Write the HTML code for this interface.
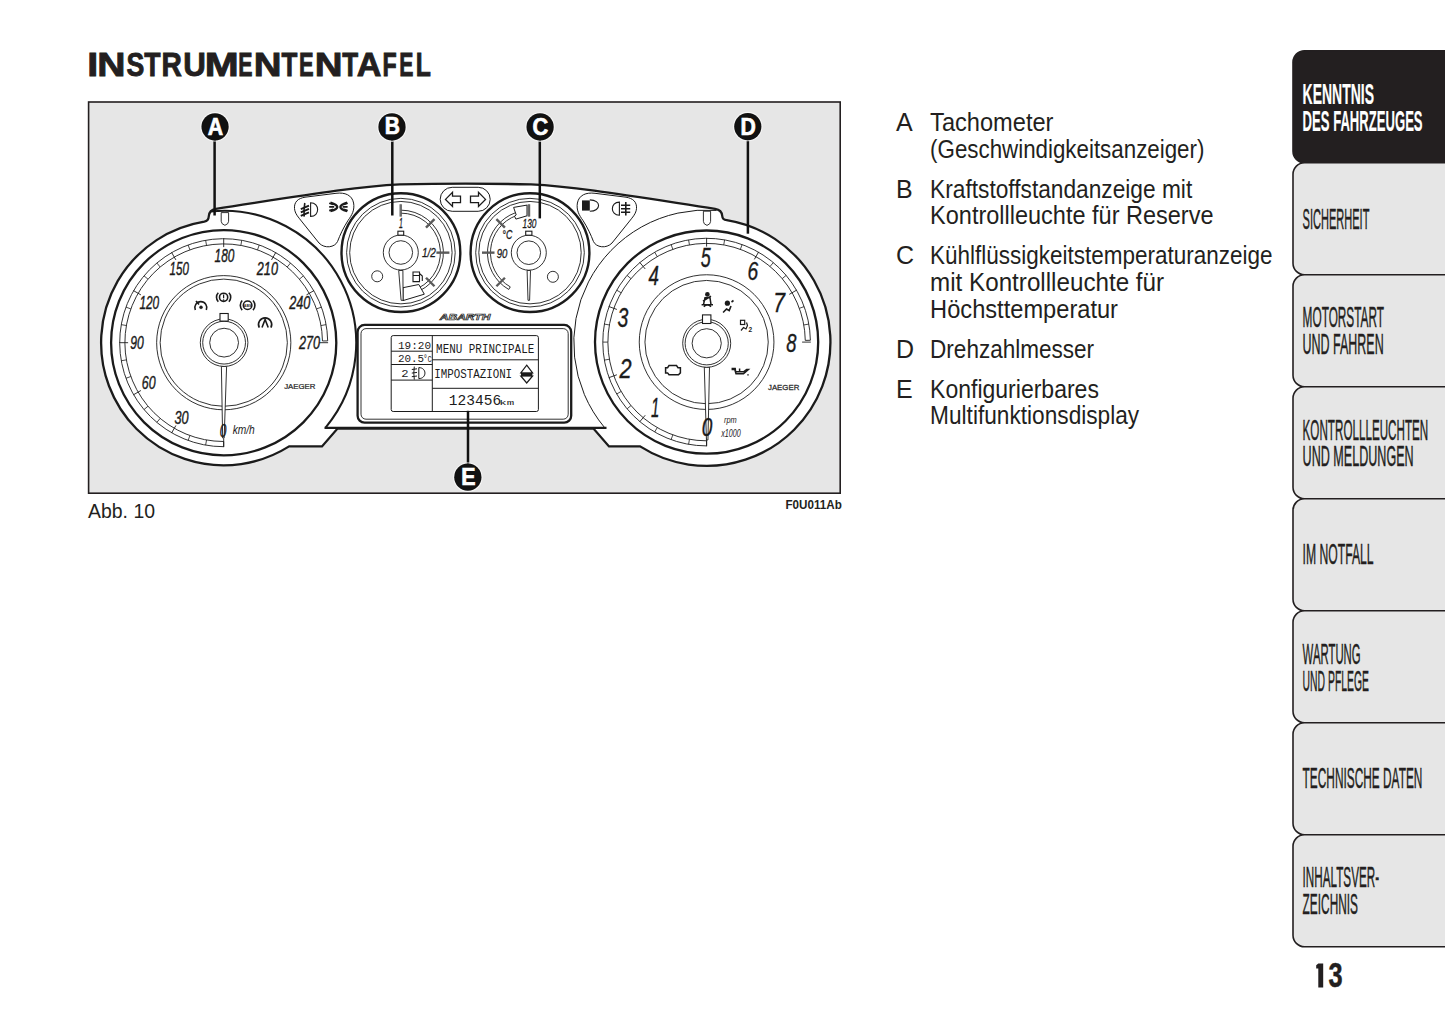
<!DOCTYPE html>
<html><head><meta charset="utf-8"><title>Instrumententafel</title>
<style>
html,body{margin:0;padding:0;background:#fff;}
body{width:1445px;height:1026px;overflow:hidden;}
svg{display:block;font-family:"Liberation Sans",sans-serif;}
</style></head>
<body>
<svg width="1445" height="1026" viewBox="0 0 1445 1026">
<rect x="0" y="0" width="1445" height="1026" fill="#ffffff"/>

<!-- TITLE -->
<text transform="translate(87.30,76.30) scale(1.1812,1)" font-size="33.50" font-weight="bold" fill="#231f20" stroke="#231f20" stroke-width="0.9">I</text>
<text transform="translate(97.33,76.30) scale(1.1678,1)" font-size="33.50" font-weight="bold" fill="#231f20" stroke="#231f20" stroke-width="0.9">N</text>
<text transform="translate(126.58,76.30) scale(0.7972,1)" font-size="33.50" font-weight="bold" fill="#231f20" stroke="#231f20" stroke-width="0.9">S</text>
<text transform="translate(144.35,76.30) scale(0.7959,1)" font-size="33.50" font-weight="bold" fill="#231f20" stroke="#231f20" stroke-width="0.9">T</text>
<text transform="translate(161.46,76.30) scale(0.8418,1)" font-size="33.50" font-weight="bold" fill="#231f20" stroke="#231f20" stroke-width="0.9">R</text>
<text transform="translate(183.17,76.30) scale(0.9337,1)" font-size="33.50" font-weight="bold" fill="#231f20" stroke="#231f20" stroke-width="0.9">U</text>
<text transform="translate(204.82,76.30) scale(1.2167,1)" font-size="33.50" font-weight="bold" fill="#231f20" stroke="#231f20" stroke-width="0.9">M</text>
<text transform="translate(238.32,76.30) scale(0.6385,1)" font-size="33.50" font-weight="bold" fill="#231f20" stroke="#231f20" stroke-width="0.9">E</text>
<text transform="translate(253.68,76.30) scale(1.1475,1)" font-size="33.50" font-weight="bold" fill="#231f20" stroke="#231f20" stroke-width="0.9">N</text>
<text transform="translate(281.56,76.30) scale(0.7756,1)" font-size="33.50" font-weight="bold" fill="#231f20" stroke="#231f20" stroke-width="0.9">T</text>
<text transform="translate(298.98,76.30) scale(0.6544,1)" font-size="33.50" font-weight="bold" fill="#231f20" stroke="#231f20" stroke-width="0.9">E</text>
<text transform="translate(314.78,76.30) scale(1.1475,1)" font-size="33.50" font-weight="bold" fill="#231f20" stroke="#231f20" stroke-width="0.9">N</text>
<text transform="translate(342.36,76.30) scale(0.7756,1)" font-size="33.50" font-weight="bold" fill="#231f20" stroke="#231f20" stroke-width="0.9">T</text>
<text transform="translate(356.70,76.30) scale(1.0189,1)" font-size="33.50" font-weight="bold" fill="#231f20" stroke="#231f20" stroke-width="0.9">A</text>
<text transform="translate(382.59,76.30) scale(0.6943,1)" font-size="33.50" font-weight="bold" fill="#231f20" stroke="#231f20" stroke-width="0.9">F</text>
<text transform="translate(399.13,76.30) scale(0.6332,1)" font-size="33.50" font-weight="bold" fill="#231f20" stroke="#231f20" stroke-width="0.9">E</text>
<text transform="translate(415.79,76.30) scale(0.7387,1)" font-size="33.50" font-weight="bold" fill="#231f20" stroke="#231f20" stroke-width="0.9">L</text>

<!-- FIGURE BOX -->
<rect x="88.6" y="102" width="751.6" height="391.2" fill="#e6e6e6" stroke="#231f20" stroke-width="1.6"/>

<path d="M215.9,208.8 C300,196 355,186.6 400,184.4 Q465.5,183 531,184.4 C576,186.6 631,196 715.1,208.8 C720.6,209.6 722,212.5 722.2,215.8 C722.4,218.8 724.2,220.1 726.7,220.1 A123.7 123.7 0 1 1 640.1,446.4 L609,446.4 L593.5,428.6 L337.5,428.6 L322,446.4 L289.1,446.4 A122.6 122.6 0 1 1 204.3,221.64 C206.6,221.2 208.6,219.4 208.8,216.2 C209,212.5 210.4,209.6 215.9,208.8 Z" fill="#ffffff" stroke="#1b1b1b" stroke-width="2.3"/>
<path d="M210.3,211.5 A132.2 132.2 0 0 1 325.6,427.6" fill="none" stroke="#1b1b1b" stroke-width="2.1"/>
<path d="M716.5,210.4 A132.6 132.6 0 0 0 604.6,427.6" fill="none" stroke="#1b1b1b" stroke-width="1"/>
<line x1="324.5" y1="427.9" x2="606.5" y2="427.9" stroke="#1b1b1b" stroke-width="2.3"/>
<path d="M294.5,208.5 C294,202 298,198.3 305,197.2 L336,193.3 C345,192.2 352,195 353.6,203 C354.8,210 352,215 348,220.5 C343.5,227.5 340,235 337.6,241.4 C335,247.5 324.5,249 319,243 L299.6,218.8 C296,214.5 294.7,211.5 294.5,208.5 Z" fill="none" stroke="#1b1b1b" stroke-width="1"/>
<g transform="translate(931,0) scale(-1,1)">
<path d="M294.5,208.5 C294,202 298,198.3 305,197.2 L336,193.3 C345,192.2 352,195 353.6,203 C354.8,210 352,215 348,220.5 C343.5,227.5 340,235 337.6,241.4 C335,247.5 324.5,249 319,243 L299.6,218.8 C296,214.5 294.7,211.5 294.5,208.5 Z" fill="none" stroke="#1b1b1b" stroke-width="1"/>
</g>
<rect x="440.2" y="187.3" width="50" height="24" rx="12" ry="12" fill="none" stroke="#1b1b1b" stroke-width="1"/>
<polygon points="445.5,199.4 452.5,192.4 452.5,196.2 460.5,196.2 460.5,202.6 452.5,202.6 452.5,206.4" fill="#fff" stroke="#1b1b1b" stroke-width="1.3" stroke-linejoin="miter"/>
<polygon points="485.5,199.4 478.5,192.4 478.5,196.2 470.5,196.2 470.5,202.6 478.5,202.6 478.5,206.4" fill="#fff" stroke="#1b1b1b" stroke-width="1.3" stroke-linejoin="miter"/>
<path d="M221.2,212.6 H228.6 V221.3 Q228.6,224.1 224.9,225.3 Q221.2,224.1 221.2,221.3 Z" fill="#fff" stroke="#1b1b1b" stroke-width="0.9"/>
<path d="M703.4,211.2 H710.6 V221.4 Q710.6,224.2 707,225.4 Q703.4,224.2 703.4,221.4 Z" fill="#fff" stroke="#1b1b1b" stroke-width="0.9"/>
<circle cx="223.7" cy="342.7" r="112.6" fill="none" stroke="#1b1b1b" stroke-width="2.3"/>
<path d="M223.7,446.7 A104 104 0 1 1 327.68,340.88" fill="none" stroke="#1b1b1b" stroke-width="0.9"/>
<path d="M223.7,441.5 A98.8 98.8 0 1 1 322.48,340.98" fill="none" stroke="#1b1b1b" stroke-width="0.9"/>
<line x1="322.48" y1="340.98" x2="327.68" y2="340.88" stroke="#1b1b1b" stroke-width="0.9"/>
<line x1="223.7" y1="441.5" x2="223.7" y2="446.7" stroke="#1b1b1b" stroke-width="0.9"/>
<line x1="223.7" y1="438.3" x2="223.7" y2="447.1" stroke="#1b1b1b" stroke-width="0.9"/>
<line x1="206.54" y1="440" x2="205.64" y2="445.12" stroke="#1b1b1b" stroke-width="0.8"/>
<line x1="189.91" y1="435.54" x2="188.13" y2="440.43" stroke="#1b1b1b" stroke-width="0.8"/>
<line x1="175.9" y1="425.49" x2="171.5" y2="433.11" stroke="#1b1b1b" stroke-width="0.9"/>
<line x1="160.19" y1="418.39" x2="156.85" y2="422.37" stroke="#1b1b1b" stroke-width="0.8"/>
<line x1="148.01" y1="406.21" x2="144.03" y2="409.55" stroke="#1b1b1b" stroke-width="0.8"/>
<line x1="140.91" y1="390.5" x2="133.29" y2="394.9" stroke="#1b1b1b" stroke-width="0.9"/>
<line x1="130.86" y1="376.49" x2="125.97" y2="378.27" stroke="#1b1b1b" stroke-width="0.8"/>
<line x1="126.4" y1="359.86" x2="121.28" y2="360.76" stroke="#1b1b1b" stroke-width="0.8"/>
<line x1="128.1" y1="342.7" x2="119.3" y2="342.7" stroke="#1b1b1b" stroke-width="0.9"/>
<line x1="126.4" y1="325.54" x2="121.28" y2="324.64" stroke="#1b1b1b" stroke-width="0.8"/>
<line x1="130.86" y1="308.91" x2="125.97" y2="307.13" stroke="#1b1b1b" stroke-width="0.8"/>
<line x1="140.91" y1="294.9" x2="133.29" y2="290.5" stroke="#1b1b1b" stroke-width="0.9"/>
<line x1="148.01" y1="279.19" x2="144.03" y2="275.85" stroke="#1b1b1b" stroke-width="0.8"/>
<line x1="160.19" y1="267.01" x2="156.85" y2="263.03" stroke="#1b1b1b" stroke-width="0.8"/>
<line x1="175.9" y1="259.91" x2="171.5" y2="252.29" stroke="#1b1b1b" stroke-width="0.9"/>
<line x1="189.91" y1="249.86" x2="188.13" y2="244.97" stroke="#1b1b1b" stroke-width="0.8"/>
<line x1="206.54" y1="245.4" x2="205.64" y2="240.28" stroke="#1b1b1b" stroke-width="0.8"/>
<line x1="223.7" y1="247.1" x2="223.7" y2="238.3" stroke="#1b1b1b" stroke-width="0.9"/>
<line x1="240.86" y1="245.4" x2="241.76" y2="240.28" stroke="#1b1b1b" stroke-width="0.8"/>
<line x1="257.49" y1="249.86" x2="259.27" y2="244.97" stroke="#1b1b1b" stroke-width="0.8"/>
<line x1="271.5" y1="259.91" x2="275.9" y2="252.29" stroke="#1b1b1b" stroke-width="0.9"/>
<line x1="287.21" y1="267.01" x2="290.55" y2="263.03" stroke="#1b1b1b" stroke-width="0.8"/>
<line x1="299.39" y1="279.19" x2="303.37" y2="275.85" stroke="#1b1b1b" stroke-width="0.8"/>
<line x1="306.49" y1="294.9" x2="314.11" y2="290.5" stroke="#1b1b1b" stroke-width="0.9"/>
<line x1="316.54" y1="308.91" x2="321.43" y2="307.13" stroke="#1b1b1b" stroke-width="0.8"/>
<line x1="321" y1="325.54" x2="326.12" y2="324.64" stroke="#1b1b1b" stroke-width="0.8"/>
<line x1="319.3" y1="342.7" x2="328.1" y2="342.7" stroke="#1b1b1b" stroke-width="0.9"/>
<circle cx="223.75" cy="342.7" r="67.1" fill="none" stroke="#1b1b1b" stroke-width="0.9"/>
<circle cx="223.75" cy="342.7" r="63.6" fill="none" stroke="#1b1b1b" stroke-width="0.9"/>
<path d="M221.4,366.5 L226.6,366.5 L224.15,438 L222.65,438 Z" fill="#fff" stroke="#1b1b1b" stroke-width="0.9"/>
<text transform="translate(219.63,436.58) scale(0.6684,1)" font-size="17.80" font-style="italic" fill="#1b1b1b" stroke="#1b1b1b" stroke-width="0.4">0</text>
<text transform="translate(174.45,423.78) scale(0.7124,1)" font-size="17.80" font-style="italic" fill="#1b1b1b" stroke="#1b1b1b" stroke-width="0.4">30</text>
<text transform="translate(141.75,388.98) scale(0.7084,1)" font-size="17.51" font-style="italic" fill="#1b1b1b" stroke="#1b1b1b" stroke-width="0.4">60</text>
<text transform="translate(130.23,348.88) scale(0.6883,1)" font-size="17.66" font-style="italic" fill="#1b1b1b" stroke="#1b1b1b" stroke-width="0.4">90</text>
<text transform="translate(139.44,309.17) scale(0.6465,1)" font-size="18.36" font-style="italic" fill="#1b1b1b" stroke="#1b1b1b" stroke-width="0.4">120</text>
<text transform="translate(169.55,275.37) scale(0.6298,1)" font-size="18.36" font-style="italic" fill="#1b1b1b" stroke="#1b1b1b" stroke-width="0.4">150</text>
<text transform="translate(214.54,261.88) scale(0.6670,1)" font-size="17.80" font-style="italic" fill="#1b1b1b" stroke="#1b1b1b" stroke-width="0.4">180</text>
<text transform="translate(256.82,274.98) scale(0.7117,1)" font-size="17.80" font-style="italic" fill="#1b1b1b" stroke="#1b1b1b" stroke-width="0.4">210</text>
<text transform="translate(289.22,308.77) scale(0.6951,1)" font-size="18.22" font-style="italic" fill="#1b1b1b" stroke="#1b1b1b" stroke-width="0.4">240</text>
<text transform="translate(298.92,348.67) scale(0.6951,1)" font-size="18.22" font-style="italic" fill="#1b1b1b" stroke="#1b1b1b" stroke-width="0.4">270</text>
<text transform="translate(232.63,434.48) scale(0.8336,1)" font-size="12.26" font-style="italic" fill="#1b1b1b">km/h</text>
<text transform="translate(284.18,389.13) scale(1.0252,1)" font-size="7.63" fill="#2a2a2a" stroke="#2a2a2a" stroke-width="0.25">JAEGER</text>
<circle cx="224.1" cy="342.65" r="23.8" fill="#fff" stroke="#1b1b1b" stroke-width="0.9"/>
<circle cx="224.1" cy="342.65" r="21.4" fill="none" stroke="#1b1b1b" stroke-width="0.9"/>
<circle cx="224.1" cy="342.65" r="14.4" fill="none" stroke="#1b1b1b" stroke-width="0.9"/>
<rect x="220" y="313.5" width="8.2" height="7.6" fill="#fff" stroke="#1b1b1b" stroke-width="1.1"/>
<g fill="none" stroke="#1b1b1b" stroke-width="1.6">
<path d="M195.3,310 A6 6 0 1 1 206.3,310"/>
<line x1="196" y1="301" x2="199" y2="304.5"/>
</g>
<circle cx="201" cy="307.3" r="1.5" fill="#1b1b1b" stroke="#1b1b1b" stroke-width="0.5"/>
<g fill="none" stroke="#1b1b1b" stroke-width="1.6">
<circle cx="223.6" cy="297.3" r="4.1"/>
<path d="M218.3,292.8 A6.5 6.5 0 0 0 218.3,301.8 M228.9,292.8 A6.5 6.5 0 0 1 228.9,301.8"/>
</g>
<line x1="223.6" y1="294.6" x2="223.6" y2="298.3" stroke="#1b1b1b" stroke-width="1.2"/>
<circle cx="223.6" cy="299.9" r="0.5" fill="#1b1b1b" stroke="#1b1b1b" stroke-width="0.5"/>
<g fill="none" stroke="#1b1b1b" stroke-width="1.6">
<circle cx="247.6" cy="305.3" r="4.3" fill="#fff" stroke-width="1.5"/>
<path d="M242.2,300.5 A7 7 0 0 0 242.2,310.1 M253,300.5 A7 7 0 0 1 253,310.1"/>
</g>
<text x="247.6" y="306.6" font-size="3.6" fill="#1b1b1b" text-anchor="middle" font-weight="bold">ABS</text>
<g fill="none" stroke="#1b1b1b" stroke-width="1.6">
<path d="M259.3,327.6 A6.6 6.6 0 1 1 270.9,327.6"/>
<path d="M262,327.5 L265.1,319.5 L268.2,327.5"/>
</g>
<circle cx="706.6" cy="342.1" r="111.6" fill="none" stroke="#1b1b1b" stroke-width="2.3"/>
<path d="M706.6,445.9 A103.8 103.8 0 1 1 810.38,340.29" fill="none" stroke="#1b1b1b" stroke-width="0.9"/>
<path d="M706.6,440.8 A98.7 98.7 0 1 1 805.28,340.38" fill="none" stroke="#1b1b1b" stroke-width="0.9"/>
<line x1="805.28" y1="340.38" x2="810.38" y2="340.29" stroke="#1b1b1b" stroke-width="0.9"/>
<line x1="706.6" y1="440.8" x2="706.6" y2="445.9" stroke="#1b1b1b" stroke-width="0.9"/>
<line x1="706.6" y1="437.6" x2="706.6" y2="446.3" stroke="#1b1b1b" stroke-width="0.9"/>
<line x1="689.46" y1="439.3" x2="688.58" y2="444.32" stroke="#1b1b1b" stroke-width="0.8"/>
<line x1="672.84" y1="434.85" x2="671.1" y2="439.64" stroke="#1b1b1b" stroke-width="0.8"/>
<line x1="657.25" y1="427.58" x2="654.7" y2="431.99" stroke="#1b1b1b" stroke-width="0.8"/>
<line x1="645.21" y1="415.26" x2="639.62" y2="421.92" stroke="#1b1b1b" stroke-width="0.9"/>
<line x1="630.99" y1="405.54" x2="627.08" y2="408.82" stroke="#1b1b1b" stroke-width="0.8"/>
<line x1="621.12" y1="391.45" x2="616.71" y2="394" stroke="#1b1b1b" stroke-width="0.8"/>
<line x1="616.86" y1="374.76" x2="608.68" y2="377.74" stroke="#1b1b1b" stroke-width="0.9"/>
<line x1="609.4" y1="359.24" x2="604.38" y2="360.12" stroke="#1b1b1b" stroke-width="0.8"/>
<line x1="607.9" y1="342.1" x2="602.8" y2="342.1" stroke="#1b1b1b" stroke-width="0.8"/>
<line x1="609.4" y1="324.96" x2="604.38" y2="324.08" stroke="#1b1b1b" stroke-width="0.8"/>
<line x1="616.86" y1="309.44" x2="608.68" y2="306.46" stroke="#1b1b1b" stroke-width="0.9"/>
<line x1="621.12" y1="292.75" x2="616.71" y2="290.2" stroke="#1b1b1b" stroke-width="0.8"/>
<line x1="630.99" y1="278.66" x2="627.08" y2="275.38" stroke="#1b1b1b" stroke-width="0.8"/>
<line x1="645.21" y1="268.94" x2="639.62" y2="262.28" stroke="#1b1b1b" stroke-width="0.9"/>
<line x1="657.25" y1="256.62" x2="654.7" y2="252.21" stroke="#1b1b1b" stroke-width="0.8"/>
<line x1="672.84" y1="249.35" x2="671.1" y2="244.56" stroke="#1b1b1b" stroke-width="0.8"/>
<line x1="689.46" y1="244.9" x2="688.58" y2="239.88" stroke="#1b1b1b" stroke-width="0.8"/>
<line x1="706.6" y1="246.6" x2="706.6" y2="237.9" stroke="#1b1b1b" stroke-width="0.9"/>
<line x1="723.74" y1="244.9" x2="724.62" y2="239.88" stroke="#1b1b1b" stroke-width="0.8"/>
<line x1="740.36" y1="249.35" x2="742.1" y2="244.56" stroke="#1b1b1b" stroke-width="0.8"/>
<line x1="754.35" y1="259.39" x2="758.7" y2="251.86" stroke="#1b1b1b" stroke-width="0.9"/>
<line x1="770.04" y1="266.49" x2="773.32" y2="262.58" stroke="#1b1b1b" stroke-width="0.8"/>
<line x1="782.21" y1="278.66" x2="786.12" y2="275.38" stroke="#1b1b1b" stroke-width="0.8"/>
<line x1="789.31" y1="294.35" x2="796.84" y2="290" stroke="#1b1b1b" stroke-width="0.9"/>
<line x1="799.35" y1="308.34" x2="804.14" y2="306.6" stroke="#1b1b1b" stroke-width="0.8"/>
<line x1="803.8" y1="324.96" x2="808.82" y2="324.08" stroke="#1b1b1b" stroke-width="0.8"/>
<line x1="802.1" y1="342.1" x2="810.8" y2="342.1" stroke="#1b1b1b" stroke-width="0.9"/>
<circle cx="706.6" cy="342.1" r="67.35" fill="none" stroke="#1b1b1b" stroke-width="0.9"/>
<circle cx="706.6" cy="342.1" r="61.65" fill="none" stroke="#1b1b1b" stroke-width="0.9"/>
<path d="M704.3,367.2 L709.5,367.2 L707.95,440 L706.45,440 Z" fill="#fff" stroke="#1b1b1b" stroke-width="0.9"/>
<text transform="translate(701.72,435.90) scale(0.7324,1)" font-size="25.99" font-style="italic" fill="#1b1b1b" stroke="#1b1b1b" stroke-width="0.4">0</text>
<text transform="translate(650.96,417.05) scale(0.5302,1)" font-size="28.34" font-style="italic" fill="#1b1b1b" stroke="#1b1b1b" stroke-width="0.4">1</text>
<text transform="translate(619.38,378.45) scale(0.7785,1)" font-size="27.93" font-style="italic" fill="#1b1b1b" stroke="#1b1b1b" stroke-width="0.4">2</text>
<text transform="translate(617.59,327.39) scale(0.7255,1)" font-size="26.84" font-style="italic" fill="#1b1b1b" stroke="#1b1b1b" stroke-width="0.4">3</text>
<text transform="translate(648.53,284.55) scale(0.6787,1)" font-size="27.62" font-style="italic" fill="#1b1b1b" stroke="#1b1b1b" stroke-width="0.4">4</text>
<text transform="translate(700.85,267.38) scale(0.6576,1)" font-size="27.23" font-style="italic" fill="#1b1b1b" stroke="#1b1b1b" stroke-width="0.4">5</text>
<text transform="translate(747.57,280.20) scale(0.7388,1)" font-size="25.99" font-style="italic" fill="#1b1b1b" stroke="#1b1b1b" stroke-width="0.4">6</text>
<text transform="translate(773.37,312.05) scale(0.7890,1)" font-size="26.74" font-style="italic" fill="#1b1b1b" stroke="#1b1b1b" stroke-width="0.4">7</text>
<text transform="translate(786.17,352.20) scale(0.7046,1)" font-size="26.01" font-style="italic" fill="#1b1b1b" stroke="#1b1b1b" stroke-width="0.4">8</text>
<text transform="translate(723.98,423.30) scale(0.9061,1)" font-size="8.18" font-style="italic" fill="#1b1b1b">rpm</text>
<text transform="translate(721.29,437.20) scale(0.6747,1)" font-size="10.59" font-style="italic" fill="#1b1b1b">x1000</text>
<text transform="translate(767.98,389.82) scale(1.0098,1)" font-size="7.77" fill="#2a2a2a" stroke="#2a2a2a" stroke-width="0.25">JAEGER</text>
<circle cx="706.7" cy="343.3" r="24" fill="#fff" stroke="#1b1b1b" stroke-width="0.9"/>
<circle cx="706.7" cy="343.3" r="21.6" fill="none" stroke="#1b1b1b" stroke-width="0.9"/>
<circle cx="706.7" cy="343.3" r="14.6" fill="none" stroke="#1b1b1b" stroke-width="0.9"/>
<rect x="702.5" y="314.9" width="8.4" height="8.6" fill="#fff" stroke="#1b1b1b" stroke-width="1.1"/>
<g fill="none" stroke="#1b1b1b" stroke-width="1.5" transform="translate(0,-1.8)">
<circle cx="707.4" cy="296.2" r="1.6" fill="#1b1b1b"/>
<path d="M703.5,306.5 L705,299.5 L710,299.5 L711,306.5 M701.6,306.5 L713,306.5 M703.8,308.5 Q707.4,305 711,308.5 M703,303 L711,298"/>
</g>
<g fill="none" stroke="#1b1b1b" stroke-width="1.6">
<circle cx="727.4" cy="303.2" r="2.6" fill="#1b1b1b" stroke="none"/>
<path d="M723.1,312.5 L726.5,309 L729.2,310.5 L731,306 M731.5,302 L733.5,300.5"/>
</g>
<g fill="none" stroke="#1b1b1b" stroke-width="1.2">
<rect x="740.5" y="320.3" width="4.2" height="4.2"/>
<path d="M741,330.5 L743.5,327.5 L746,329 L747.5,325.5 L746.5,322.5"/>
</g>
<text x="750.2" y="331.5" font-size="6.5" fill="#1b1b1b" text-anchor="middle" font-weight="bold">2</text>
<path transform="translate(0,1.4)" d="M665.6,366.3 L667.6,366.3 L669,364.2 L676.5,364.2 L678,366.3 L680.4,366.3 L680.4,371.5 L678.5,373.4 L669,373.4 L667.6,371.5 L665.6,371.5 Z" fill="none" stroke="#1b1b1b" stroke-width="1.5"/>
<path d="M732.3,369.6 L734.8,369.6 L736,373.8 L743.5,373.8 L748.4,369.6 L746.6,369.6 L743.5,371.8 L735.6,371.8 L735.2,368.4 L732.3,368.4 Z M739.6,368.4 V371.6 M748,374.2 L748,375.4" fill="none" stroke="#1b1b1b" stroke-width="1.5"/>
<circle cx="400.9" cy="252.65" r="59.4" fill="#fff" stroke="#1b1b1b" stroke-width="2.4"/>
<circle cx="400.9" cy="252.65" r="54.3" fill="none" stroke="#1b1b1b" stroke-width="0.9"/>
<circle cx="400.9" cy="252.65" r="51.2" fill="none" stroke="#1b1b1b" stroke-width="0.9"/>
<path d="M400.9,210.15 A42.5 42.5 0 0 1 419.53,290.85" fill="none" stroke="#1b1b1b" stroke-width="0.9"/>
<path d="M400.9,213.15 A39.5 39.5 0 0 1 418.22,288.15" fill="none" stroke="#1b1b1b" stroke-width="0.9"/>
<line x1="400.7" y1="204.3" x2="400.7" y2="216.6" stroke="#555" stroke-width="2.3"/>
<line x1="400.7" y1="205" x2="400.7" y2="215.9" stroke="#888" stroke-width="0.6"/>
<line x1="426" y1="227.55" x2="434.49" y2="219.06" stroke="#5a5a5a" stroke-width="2.4"/>
<line x1="436.4" y1="252.65" x2="449.4" y2="252.65" stroke="#5a5a5a" stroke-width="2.4"/>
<line x1="426" y1="277.75" x2="434.49" y2="286.24" stroke="#5a5a5a" stroke-width="2.4"/>
<path d="M403,287.7 L418.8,284.5 L424.3,294.2 L403,300.6 Z" fill="#fff" stroke="#1b1b1b" stroke-width="1"/>
<text transform="translate(399.02,228.40) scale(0.4932,1)" font-size="14.10" font-style="italic" fill="#1b1b1b" stroke="#1b1b1b" stroke-width="0.3">1</text>
<text transform="translate(421.94,257.38) scale(0.8132,1)" font-size="12.39" font-style="italic" fill="#1b1b1b" stroke="#1b1b1b" stroke-width="0.3">1/2</text>
<path d="M413,272 L419.5,272 L419.5,281.6 L413,281.6 Z M413,275.5 L419.5,275.5 M419.5,273.5 L422.3,276 L422.3,281" fill="none" stroke="#1b1b1b" stroke-width="1.1"/>
<circle cx="377.2" cy="276.3" r="5.5" fill="none" stroke="#1b1b1b" stroke-width="0.9"/>
<circle cx="400.8" cy="252.5" r="17.5" fill="#fff" stroke="#1b1b1b" stroke-width="0.9"/>
<circle cx="400.8" cy="252.5" r="11.8" fill="none" stroke="#1b1b1b" stroke-width="0.9"/>
<rect x="397.9" y="231.2" width="5.8" height="4" fill="#fff" stroke="#1b1b1b" stroke-width="1.1"/>
<path d="M398.7,270.5 L402.9,270.5 L403.1,300.3 L401.1,300.3 Z" fill="#fff" stroke="#1b1b1b" stroke-width="0.9"/>
<circle cx="530" cy="252.65" r="59.4" fill="#fff" stroke="#1b1b1b" stroke-width="2.4"/>
<circle cx="530" cy="252.65" r="54.3" fill="none" stroke="#1b1b1b" stroke-width="0.9"/>
<circle cx="530" cy="252.65" r="51.2" fill="none" stroke="#1b1b1b" stroke-width="0.9"/>
<path d="M508.75,289.46 A42.5 42.5 0 0 1 515.46,212.71" fill="none" stroke="#1b1b1b" stroke-width="0.9"/>
<path d="M510.25,286.86 A39.5 39.5 0 0 1 516.49,215.53" fill="none" stroke="#1b1b1b" stroke-width="0.9"/>
<line x1="510.25" y1="286.86" x2="508.75" y2="289.46" stroke="#1b1b1b" stroke-width="0.9"/>
<line x1="504.9" y1="277.75" x2="496.41" y2="286.24" stroke="#5a5a5a" stroke-width="2.4"/>
<line x1="494.5" y1="252.65" x2="482" y2="252.65" stroke="#5a5a5a" stroke-width="2.4"/>
<line x1="504.9" y1="227.55" x2="496.41" y2="219.06" stroke="#5a5a5a" stroke-width="2.4"/>
<path d="M513.6,207.4 L527.0,205.1 L527.0,215.8 L515.9,219.1 L514.5,216.2 L516.2,214.9 Z" fill="#fff" stroke="#1b1b1b" stroke-width="1"/>
<line x1="528.9" y1="204.3" x2="528.9" y2="216.6" stroke="#555" stroke-width="2.6"/>
<line x1="528.9" y1="205" x2="528.9" y2="215.9" stroke="#888" stroke-width="0.7"/>
<text transform="translate(522.58,228.28) scale(0.6851,1)" font-size="12.15" font-style="italic" fill="#1b1b1b" stroke="#1b1b1b" stroke-width="0.3">130</text>
<text transform="translate(502.36,238.97) scale(0.6788,1)" font-size="12.99" font-style="italic" fill="#1b1b1b" stroke="#1b1b1b" stroke-width="0.3">°C</text>
<text transform="translate(496.67,257.97) scale(0.7491,1)" font-size="12.85" font-style="italic" fill="#1b1b1b" stroke="#1b1b1b" stroke-width="0.3">90</text>
<circle cx="552.9" cy="276.8" r="5.5" fill="none" stroke="#1b1b1b" stroke-width="0.9"/>
<circle cx="528.8" cy="252.7" r="17.5" fill="#fff" stroke="#1b1b1b" stroke-width="0.9"/>
<circle cx="528.8" cy="252.7" r="11.8" fill="none" stroke="#1b1b1b" stroke-width="0.9"/>
<rect x="525.7" y="231.2" width="6.2" height="4" fill="#fff" stroke="#1b1b1b" stroke-width="1.1"/>
<path d="M527.1,270.5 L530.5,270.5 L529.6,300.3 L528,300.3 Z" fill="#fff" stroke="#1b1b1b" stroke-width="0.9"/>
<path d="M310.6,202.8 C320,202.8 320,216.4 310.6,216.4 Z" fill="none" stroke="#1b1b1b" stroke-width="1.1"/>
<path d="M300.8,209.2 L309,205.7 M300.8,212.4 L309,208.9 M300.8,215.8 L309,212.3" fill="none" stroke="#1b1b1b" stroke-width="1.9"/>
<path d="M304.8,203 Q303.6,209.8 304.2,216.6" fill="none" stroke="#1b1b1b" stroke-width="1.6"/>
<path d="M330.4,202.6 Q344,206.9 330.4,211.2 M347.2,202.6 Q333.6,206.9 347.2,211.2" fill="none" stroke="#1b1b1b" stroke-width="2.4"/>
<path d="M329.2,203.2 L333.2,204.4 M329.2,206.9 H334.2 M329.2,210.6 L333.2,209.4 M347.6,203.2 L343.6,204.4 M347.6,206.9 H342.6 M347.6,210.6 L343.6,209.4" fill="none" stroke="#1b1b1b" stroke-width="1.7"/>
<rect x="582" y="200.4" width="7.8" height="10.2" fill="#1b1b1b"/>
<path d="M589.8,199.9 C601.5,199.9 601.5,211.2 589.8,211.2" fill="none" stroke="#1b1b1b" stroke-width="1.1"/>
<path d="M619.4,202.1 C610,202.1 610,215.3 619.4,215.3 Z" fill="none" stroke="#1b1b1b" stroke-width="1.1"/>
<path d="M621,205.3 H630.2 M621,208.7 H630.2 M621,212.3 H630.2" fill="none" stroke="#1b1b1b" stroke-width="1.5"/>
<path d="M625.8,202 V215.6" fill="none" stroke="#1b1b1b" stroke-width="1.6"/>
<rect x="357.6" y="324.9" width="213.6" height="97.8" rx="7" ry="7" fill="#fff" stroke="#1b1b1b" stroke-width="2.3"/>
<rect x="361" y="328.6" width="207.2" height="90.6" rx="5" ry="5" fill="none" stroke="#1b1b1b" stroke-width="0.9"/>
<rect x="391.2" y="335.6" width="147.2" height="75.9" rx="2" ry="2" fill="none" stroke="#1b1b1b" stroke-width="1"/>
<line x1="432.3" y1="335.6" x2="432.3" y2="411.5" stroke="#1b1b1b" stroke-width="1"/>
<line x1="391.2" y1="351.2" x2="432.3" y2="351.2" stroke="#1b1b1b" stroke-width="1"/>
<line x1="391.2" y1="364.5" x2="432.3" y2="364.5" stroke="#1b1b1b" stroke-width="1"/>
<line x1="391.2" y1="380.1" x2="432.3" y2="380.1" stroke="#1b1b1b" stroke-width="1"/>
<line x1="432.3" y1="359.8" x2="538.4" y2="359.8" stroke="#1b1b1b" stroke-width="1"/>
<line x1="432.3" y1="388.3" x2="538.4" y2="388.3" stroke="#1b1b1b" stroke-width="1"/>
<text transform="translate(397.90,348.80) scale(1.0424,1)" font-size="10.61" font-family="Liberation Mono" fill="#1b1b1b">19:20</text>
<text transform="translate(397.93,361.90) scale(1.0272,1)" font-size="10.61" font-family="Liberation Mono" fill="#1b1b1b">20.5</text>
<text transform="translate(423.25,361.90) scale(0.7013,1)" font-size="10.31" font-family="Liberation Mono" fill="#1b1b1b">°c</text>
<text transform="translate(401.34,376.90) scale(1.0739,1)" font-size="11.36" font-family="Liberation Mono" fill="#1b1b1b">2</text>
<g fill="none" stroke="#1b1b1b" stroke-width="1">
<path d="M418.8,367.6 C427,367.6 427,378.6 418.8,378.6 Z M411.8,369.5 L417,368.8 M411.8,373.1 L417,372.4 M411.8,376.7 L417,376 M414.3,366.6 Q413.3,373.1 414.3,379.6"/>
</g>
<text transform="translate(436.11,353.28) scale(0.9035,1)" font-size="12.08" font-family="Liberation Mono" fill="#1b1b1b">MENU PRINCIPALE</text>
<text transform="translate(434.23,378.28) scale(0.9082,1)" font-size="11.93" font-family="Liberation Mono" fill="#1b1b1b">IMPOSTAZIONI</text>
<text transform="translate(448.85,404.86) scale(1.0268,1)" font-size="14.14" font-family="Liberation Mono" fill="#1b1b1b">123456</text>
<text transform="translate(499.36,405.00) scale(1.6148,1)" font-size="7.73" font-family="Liberation Mono" fill="#1b1b1b">km</text>
<path d="M526.7,365.2 L532.6,373 L520.8,373 Z M520.8,376 L532.6,376 L526.7,383 Z" fill="none" stroke="#1b1b1b" stroke-width="1.2" stroke-linejoin="miter"/>
<rect x="521" y="372.6" width="11.4" height="3.6" fill="#1b1b1b"/>
<text transform="translate(439.85,319.60) scale(1.2922,1)" font-size="9.30" font-weight="bold" font-style="italic" fill="#fff" stroke="#1b1b1b" stroke-width="0.7">ABARTH</text>
<line x1="214.6" y1="138.8" x2="214.6" y2="215.5" stroke="#111" stroke-width="2.5"/>
<circle cx="215.05" cy="126.8" r="14.2" fill="none" stroke="#f6f6f6" stroke-width="1.1"/>
<circle cx="215.05" cy="126.8" r="13.6" fill="#111" stroke="none" stroke-width="0"/>
<text transform="translate(207.72,134.65) scale(0.8888,1)" font-size="23.98" font-weight="bold" fill="#fff" stroke="#fff" stroke-width="0.7">A</text>
<line x1="392.3" y1="138.9" x2="392.3" y2="215.5" stroke="#111" stroke-width="2.5"/>
<circle cx="392" cy="126.9" r="14.2" fill="none" stroke="#f6f6f6" stroke-width="1.1"/>
<circle cx="392" cy="126.9" r="13.6" fill="#111" stroke="none" stroke-width="0"/>
<text transform="translate(384.85,134.45) scale(0.9025,1)" font-size="23.26" font-weight="bold" fill="#fff" stroke="#fff" stroke-width="0.7">B</text>
<line x1="539.8" y1="138.9" x2="539.8" y2="218.4" stroke="#111" stroke-width="2.5"/>
<circle cx="540.1" cy="126.9" r="14.2" fill="none" stroke="#f6f6f6" stroke-width="1.1"/>
<circle cx="540.1" cy="126.9" r="13.6" fill="#111" stroke="none" stroke-width="0"/>
<text transform="translate(532.56,134.75) scale(0.9167,1)" font-size="23.69" font-weight="bold" fill="#fff" stroke="#fff" stroke-width="0.7">C</text>
<line x1="747.9" y1="138.6" x2="747.9" y2="233.7" stroke="#111" stroke-width="2.5"/>
<circle cx="747.8" cy="126.6" r="14.2" fill="none" stroke="#f6f6f6" stroke-width="1.1"/>
<circle cx="747.8" cy="126.6" r="13.6" fill="#111" stroke="none" stroke-width="0"/>
<text transform="translate(740.53,134.75) scale(0.8947,1)" font-size="23.69" font-weight="bold" fill="#fff" stroke="#fff" stroke-width="0.7">D</text>
<line x1="468" y1="410.8" x2="468" y2="466" stroke="#111" stroke-width="2.5"/>
<circle cx="467.85" cy="477.2" r="14.2" fill="none" stroke="#f6f6f6" stroke-width="1.1"/>
<circle cx="467.85" cy="477.2" r="13.6" fill="#111" stroke="none" stroke-width="0"/>
<text transform="translate(461.22,484.55) scale(0.9084,1)" font-size="23.55" font-weight="bold" fill="#fff" stroke="#fff" stroke-width="0.7">E</text>

<!-- CAPTIONS -->
<text x="88" y="517.5" font-size="20" fill="#231f20" textLength="67" lengthAdjust="spacingAndGlyphs">Abb. 10</text>
<text x="785.5" y="508.5" font-size="12" font-weight="bold" fill="#231f20" textLength="56.3" lengthAdjust="spacingAndGlyphs">F0U011Ab</text>

<!-- RIGHT TEXT -->
<g font-size="25" fill="#231f20">
<text x="896" y="130.8">A</text>
<text x="930.1" y="130.8" textLength="123.4" lengthAdjust="spacingAndGlyphs">Tachometer</text>
<text x="930.1" y="157.5" textLength="274.3" lengthAdjust="spacingAndGlyphs">(Geschwindigkeitsanzeiger)</text>
<text x="896" y="197.5">B</text>
<text x="930.1" y="197.5" textLength="262.1" lengthAdjust="spacingAndGlyphs">Kraftstoffstandanzeige mit</text>
<text x="930.1" y="224.2" textLength="283.4" lengthAdjust="spacingAndGlyphs">Kontrollleuchte für Reserve</text>
<text x="896" y="264.4">C</text>
<text x="930.1" y="264.4" textLength="342.4" lengthAdjust="spacingAndGlyphs">Kühlflüssigkeitstemperaturanzeige</text>
<text x="930.1" y="291.1" textLength="234.0" lengthAdjust="spacingAndGlyphs">mit Kontrollleuchte für</text>
<text x="930.1" y="317.8" textLength="187.9" lengthAdjust="spacingAndGlyphs">Höchsttemperatur</text>
<text x="896" y="357.8">D</text>
<text x="930.1" y="357.8" textLength="164.0" lengthAdjust="spacingAndGlyphs">Drehzahlmesser</text>
<text x="896" y="397.6">E</text>
<text x="930.1" y="397.6" textLength="168.8" lengthAdjust="spacingAndGlyphs">Konfigurierbares</text>
<text x="930.1" y="424.3" textLength="209.1" lengthAdjust="spacingAndGlyphs">Multifunktionsdisplay</text>
</g>

<!-- TABS -->
<g stroke="#231f20" stroke-width="1.6">
<path d="M1450 50.8 H1304.5 A11.5 11.5 0 0 0 1293 62.3 V151.3 A11.5 11.5 0 0 0 1304.5 162.8 H1450 Z" fill="#231f20"/>
<path d="M1450 162.8 H1304.5 A11.5 11.5 0 0 0 1293 174.3 V263.3 A11.5 11.5 0 0 0 1304.5 274.8 H1450 Z" fill="#e6e6e6"/>
<path d="M1450 274.8 H1304.5 A11.5 11.5 0 0 0 1293 286.3 V375.3 A11.5 11.5 0 0 0 1304.5 386.8 H1450 Z" fill="#e6e6e6"/>
<path d="M1450 386.8 H1304.5 A11.5 11.5 0 0 0 1293 398.3 V487.3 A11.5 11.5 0 0 0 1304.5 498.8 H1450 Z" fill="#e6e6e6"/>
<path d="M1450 498.8 H1304.5 A11.5 11.5 0 0 0 1293 510.3 V599.3 A11.5 11.5 0 0 0 1304.5 610.8 H1450 Z" fill="#e6e6e6"/>
<path d="M1450 610.8 H1304.5 A11.5 11.5 0 0 0 1293 622.3 V711.3 A11.5 11.5 0 0 0 1304.5 722.8 H1450 Z" fill="#e6e6e6"/>
<path d="M1450 722.8 H1304.5 A11.5 11.5 0 0 0 1293 734.3 V823.3 A11.5 11.5 0 0 0 1304.5 834.8 H1450 Z" fill="#e6e6e6"/>
<path d="M1450 834.8 H1304.5 A11.5 11.5 0 0 0 1293 846.3 V935.3 A11.5 11.5 0 0 0 1304.5 946.8 H1450 Z" fill="#e6e6e6"/>
</g>
<g font-size="29.2" fill="#231f20" stroke="#231f20" stroke-width="0.45">
<text x="1302.6" y="104.1" fill="#fff" stroke="#fff" stroke-width="0.2" font-weight="bold" textLength="71.4" lengthAdjust="spacingAndGlyphs">KENNTNIS</text>
<text x="1302.6" y="131.2" fill="#fff" stroke="#fff" stroke-width="0.2" font-weight="bold" textLength="120.0" lengthAdjust="spacingAndGlyphs">DES FAHRZEUGES</text>
<text x="1302.6" y="229" textLength="66.8" lengthAdjust="spacingAndGlyphs">SICHERHEIT</text>
<text x="1302.6" y="327.4" textLength="81.4" lengthAdjust="spacingAndGlyphs">MOTORSTART</text>
<text x="1302.6" y="353.5" textLength="81.1" lengthAdjust="spacingAndGlyphs">UND FAHREN</text>
<text x="1302.6" y="439.8" textLength="125.6" lengthAdjust="spacingAndGlyphs">KONTROLLLEUCHTEN</text>
<text x="1302.6" y="466.3" textLength="111.1" lengthAdjust="spacingAndGlyphs">UND MELDUNGEN</text>
<text x="1302.6" y="564.1" textLength="71.0" lengthAdjust="spacingAndGlyphs">IM NOTFALL</text>
<text x="1302.6" y="664" textLength="58.0" lengthAdjust="spacingAndGlyphs">WARTUNG</text>
<text x="1302.6" y="690.5" textLength="66.3" lengthAdjust="spacingAndGlyphs">UND PFLEGE</text>
<text x="1302.6" y="788.2" textLength="119.8" lengthAdjust="spacingAndGlyphs">TECHNISCHE DATEN</text>
<text x="1302.6" y="887.3" textLength="76.5" lengthAdjust="spacingAndGlyphs">INHALTSVER-</text>
<text x="1302.6" y="914.4" textLength="55.4" lengthAdjust="spacingAndGlyphs">ZEICHNIS</text>
</g>

<!-- PAGE NUMBER -->
<path d="M1318.3,963.4 H1323.2 V987.4 H1318.3 V968.6 H1316.2 V965.2 Z" fill="#231f20"/>
<text transform="translate(1328.62,987.20) scale(0.7284,1)" font-size="34.80" font-weight="bold" fill="#231f20" stroke="#231f20" stroke-width="0.5">3</text>
</svg>
</body></html>
